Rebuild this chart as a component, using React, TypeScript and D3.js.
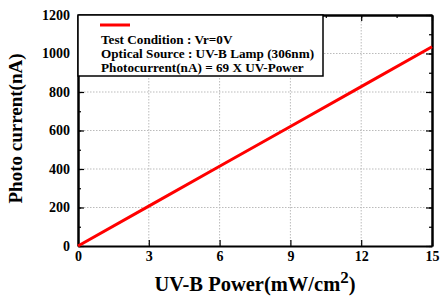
import React, { useRef, useEffect } from "react"
import * as d3 from "d3"

const power = [0, 3, 6, 9, 12, 15]
const current = [0, 207, 414, 621, 828, 1035]
const xTicks = [0, 3, 6, 9, 12, 15]
const yTicks = [0, 200, 400, 600, 800, 1000, 1200]
const legendLines = [
  "Test Condition : Vr=0V",
  "Optical Source : UV-B Lamp (306nm)",
  "Photocurrent(nA) = 69 X UV-Power",
]

const W = 441
const H = 298
const FONT = "'Liberation Serif', 'Times New Roman', serif"

const App: React.FC = () => {
  const svgRef = useRef<SVGSVGElement | null>(null)

  useEffect(() => {
    if (!svgRef.current) return
    const svg = d3.select(svgRef.current)
    svg.selectAll("*").remove()

    const margin = { top: 15, right: 9, bottom: 52, left: 78 }
    const w = W - margin.left - margin.right
    const h = H - margin.top - margin.bottom

    const x = d3.scaleLinear().domain([0, 15]).range([0, w])
    const y = d3.scaleLinear().domain([0, 1200]).range([h, 0])

    const g = svg.append("g").attr("transform", `translate(${margin.left},${margin.top})`)

    // grid
    g.selectAll(".gx")
      .data(xTicks.slice(1, -1))
      .enter()
      .append("line")
      .attr("x1", (d) => x(d))
      .attr("x2", (d) => x(d))
      .attr("y1", 0)
      .attr("y2", h)
      .attr("stroke", "#bbb")
      .attr("stroke-width", 1)
      .attr("stroke-dasharray", "1.5,1.5")
    g.selectAll(".gy")
      .data(yTicks.slice(1, -1))
      .enter()
      .append("line")
      .attr("x1", 0)
      .attr("x2", w)
      .attr("y1", (d) => y(d))
      .attr("y2", (d) => y(d))
      .attr("stroke", "#bbb")
      .attr("stroke-width", 1)
      .attr("stroke-dasharray", "1.5,1.5")

    // axes (ticks inward on all four sides)
    const xMinor = d3.range(0, 15.01, 1.5)
    const yMinor = d3.range(0, 1200.1, 100)
    const bottom = g.append("g").attr("transform", `translate(0,${h})`)
      .call(d3.axisBottom(x).tickValues(xMinor).tickSizeInner(-3).tickSizeOuter(0).tickFormat(() => ""))
    bottom.call(d3.axisBottom(x).tickValues(xTicks).tickSizeInner(-6).tickSizeOuter(0).tickPadding(5)
      .tickFormat((d) => String(d)))
    const top = g.append("g")
      .call(d3.axisTop(x).tickValues(xMinor).tickSizeInner(-3).tickSizeOuter(0).tickFormat(() => ""))
    top.append("g").call(d3.axisTop(x).tickValues(xTicks).tickSizeInner(-6).tickSizeOuter(0).tickFormat(() => ""))
    const left = g.append("g")
      .call(d3.axisLeft(y).tickValues(yMinor).tickSizeInner(-3).tickSizeOuter(0).tickFormat(() => ""))
    left.append("g").call(d3.axisLeft(y).tickValues(yTicks).tickSizeInner(-6).tickSizeOuter(0).tickPadding(8)
      .tickFormat((d) => String(d)))
    const right = g.append("g").attr("transform", `translate(${w},0)`)
      .call(d3.axisRight(y).tickValues(yMinor).tickSizeInner(-3).tickSizeOuter(0).tickFormat(() => ""))
    right.append("g").call(d3.axisRight(y).tickValues(yTicks).tickSizeInner(-6).tickSizeOuter(0).tickFormat(() => ""))

    g.selectAll(".domain").attr("stroke", "#000").attr("stroke-width", 2)
    g.selectAll(".tick line").attr("stroke", "#000").attr("stroke-width", 1.2)
    g.selectAll(".tick text")
      .attr("font-family", FONT)
      .attr("font-weight", "bold")
      .attr("font-size", 14)
      .attr("fill", "#000")

    // data line
    const line = d3.line<number>().x((d, i) => x(power[i])).y((d) => y(d))
    g.append("path")
      .datum(current)
      .attr("d", line)
      .attr("fill", "none")
      .attr("stroke", "#ff0000")
      .attr("stroke-width", 3)

    // legend
    const lg = g.append("g")
    lg.append("rect")
      .attr("x", 0)
      .attr("y", 0)
      .attr("width", 245)
      .attr("height", 61)
      .attr("fill", "#fff")
      .attr("stroke", "#000")
      .attr("stroke-width", 1.5)
    lg.append("line")
      .attr("x1", 22)
      .attr("x2", 52)
      .attr("y1", 10)
      .attr("y2", 10)
      .attr("stroke", "#ff0000")
      .attr("stroke-width", 3)
    lg.selectAll(".lt")
      .data(legendLines)
      .enter()
      .append("text")
      .attr("x", 23)
      .attr("y", (d, i) => 29 + i * 14)
      .attr("font-family", FONT)
      .attr("font-weight", "bold")
      .attr("font-size", 13.2)
      .text((d) => d)

    // axis titles
    svg.append("text")
      .attr("transform", `translate(22,${margin.top + h / 2 - 2}) rotate(-90)`)
      .attr("text-anchor", "middle")
      .attr("font-family", FONT)
      .attr("font-weight", "bold")
      .attr("font-size", 19)
      .text("Photo current(nA)")
    const xt = svg.append("text")
      .attr("x", margin.left + w / 2)
      .attr("y", 291)
      .attr("text-anchor", "middle")
      .attr("font-family", FONT)
      .attr("font-weight", "bold")
      .attr("font-size", 20.5)
    xt.append("tspan").text("UV-B Power(mW/cm")
    xt.append("tspan").attr("dy", -8).attr("font-size", 17).text("2")
    xt.append("tspan").attr("dy", 8).text(")")
  }, [])

  return <svg ref={svgRef} width={W} height={H} style={{ position: "absolute", left: 0, top: 0, background: "#fff" }}></svg>
}

export default App
